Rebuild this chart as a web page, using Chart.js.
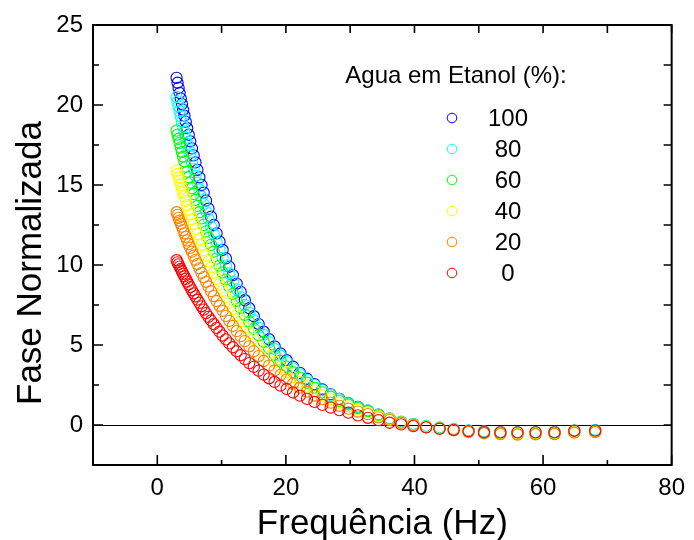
<!DOCTYPE html>
<html>
<head>
<meta charset="utf-8">
<script src="https://cdn.jsdelivr.net/npm/chart.js@4.4.1/dist/chart.umd.min.js"></script>
<style>
  html, body { margin: 0; padding: 0; background: #ffffff; }
  #wrap { width: 694px; height: 540px; }
</style>
</head>
<body>
<div id="wrap"><canvas id="c" width="694" height="540"></canvas></div>
<script>
// Frequency (Hz) of each measurement
const frequencia = [
  3.00, 3.15, 3.31, 3.47, 3.65, 3.83, 4.02, 4.22, 4.43, 4.65,
  4.89, 5.13, 5.39, 5.66, 5.94, 6.24, 6.55, 6.88, 7.22, 7.58,
  7.96, 8.36, 8.78, 9.22, 9.68, 10.16, 10.67, 11.20, 11.76, 12.35,
  12.97, 13.62, 14.30, 15.01, 15.76, 16.55, 17.38, 18.25, 19.16, 20.12,
  21.12, 22.18, 23.29, 24.45, 25.67, 26.96, 28.30, 29.72, 31.20, 32.76,
  34.40, 36.12, 37.93, 39.82, 41.81, 43.90, 46.10, 48.40, 50.82, 53.36,
  56.03, 58.83, 61.78, 64.86, 68.11
];

// Normalised phase for each water fraction in ethanol
const agua100 = [
  21.70, 21.39, 21.07, 20.75, 20.40, 20.06, 19.70, 19.33, 18.95, 18.55,
  18.14, 17.73, 17.29, 16.85, 16.41, 15.95, 15.48, 15.00, 14.52, 14.03,
  13.52, 13.02, 12.50, 11.98, 11.46, 10.94, 10.41, 9.89, 9.37, 8.84,
  8.32, 7.80, 7.30, 6.80, 6.31, 5.83, 5.36, 4.91, 4.47, 4.05,
  3.64, 3.26, 2.89, 2.55, 2.22, 1.92, 1.63, 1.37, 1.13, 0.90,
  0.65, 0.40, 0.20, 0.05, -0.08, -0.18, -0.27, -0.35, -0.42, -0.45,
  -0.47, -0.46, -0.45, -0.38, -0.34
];
const agua80 = [
  20.50, 20.22, 19.92, 19.62, 19.30, 18.97, 18.64, 18.30, 17.94, 17.57,
  17.18, 16.80, 16.40, 15.99, 15.57, 15.14, 14.71, 14.26, 13.81, 13.35,
  12.88, 12.40, 11.92, 11.43, 10.94, 10.45, 9.96, 9.47, 8.97, 8.48,
  7.98, 7.50, 7.02, 6.55, 6.08, 5.63, 5.18, 4.75, 4.33, 3.93,
  3.54, 3.17, 2.82, 2.49, 2.17, 1.88, 1.61, 1.35, 1.12, 0.90,
  0.64, 0.40, 0.21, 0.06, -0.06, -0.15, -0.25, -0.34, -0.40, -0.44,
  -0.45, -0.44, -0.43, -0.33, -0.30
];
const agua60 = [
  18.40, 18.15, 17.89, 17.63, 17.34, 17.06, 16.77, 16.47, 16.15, 15.83,
  15.49, 15.15, 14.80, 14.44, 14.07, 13.69, 13.30, 12.91, 12.51, 12.10,
  11.69, 11.26, 10.83, 10.40, 9.96, 9.53, 9.09, 8.65, 8.20, 7.76,
  7.32, 6.88, 6.45, 6.03, 5.61, 5.20, 4.79, 4.40, 4.02, 3.65,
  3.30, 2.96, 2.64, 2.33, 2.04, 1.77, 1.51, 1.28, 1.06, 0.86,
  0.60, 0.38, 0.18, 0.02, -0.12, -0.22, -0.32, -0.42, -0.50, -0.55,
  -0.57, -0.56, -0.55, -0.45, -0.42
];
const agua40 = [
  15.90, 15.69, 15.47, 15.25, 15.01, 14.78, 14.53, 14.28, 14.01, 13.74,
  13.45, 13.17, 12.87, 12.56, 12.26, 11.93, 11.61, 11.27, 10.93, 10.59,
  10.23, 9.87, 9.51, 9.14, 8.77, 8.39, 8.01, 7.64, 7.26, 6.87,
  6.49, 6.12, 5.74, 5.38, 5.01, 4.65, 4.30, 3.95, 3.62, 3.30,
  2.99, 2.68, 2.40, 2.12, 1.86, 1.62, 1.39, 1.17, 0.97, 0.79,
  0.56, 0.35, 0.17, 0.02, -0.10, -0.20, -0.30, -0.38, -0.46, -0.50,
  -0.52, -0.51, -0.50, -0.42, -0.40
];
const agua20 = [
  13.30, 13.13, 12.95, 12.77, 12.58, 12.39, 12.18, 11.98, 11.76, 11.54,
  11.30, 11.07, 10.83, 10.58, 10.32, 10.06, 9.79, 9.51, 9.24, 8.95,
  8.66, 8.36, 8.06, 7.75, 7.45, 7.14, 6.82, 6.51, 6.19, 5.87,
  5.55, 5.24, 4.92, 4.61, 4.31, 4.00, 3.71, 3.41, 3.13, 2.85,
  2.59, 2.33, 2.08, 1.84, 1.62, 1.40, 1.20, 1.02, 0.84, 0.68,
  0.48, 0.31, 0.14, 0.00, -0.13, -0.24, -0.34, -0.44, -0.52, -0.57,
  -0.60, -0.58, -0.57, -0.48, -0.45
];
const agua0 = [
  10.30, 10.17, 10.04, 9.90, 9.75, 9.61, 9.45, 9.30, 9.13, 8.96,
  8.78, 8.61, 8.42, 8.23, 8.04, 7.83, 7.63, 7.42, 7.21, 6.99,
  6.76, 6.53, 6.30, 6.07, 5.83, 5.59, 5.35, 5.10, 4.86, 4.61,
  4.36, 4.12, 3.87, 3.63, 3.39, 3.15, 2.92, 2.69, 2.46, 2.25,
  2.03, 1.83, 1.63, 1.44, 1.26, 1.09, 0.93, 0.77, 0.60, 0.45,
  0.30, 0.14, 0.04, -0.07, -0.15, -0.23, -0.30, -0.38, -0.45, -0.46,
  -0.46, -0.46, -0.46, -0.36, -0.35
];

const seriesValues = [agua100, agua80, agua60, agua40, agua20, agua0];
const seriesLabels = ['100', '80', '60', '40', '20', '0'];
const seriesColors = ['#0000ff', '#00ffff', '#00ff00', '#ffff00', '#ff8000', '#ff0000'];

const legendTitle = 'Agua em Etanol (%):';
const xTitle = 'Frequência (Hz)';
const yTitle = 'Fase Normalizada';

const FONT = '"Liberation Sans", Arial, Helvetica, sans-serif';

// Boxed frame with inward tick marks on all four sides, plus the zero line
const framePlugin = {
  id: 'frame',
  beforeDatasetsDraw(chart) {
    const { ctx, chartArea: a, scales: { y } } = chart;
    const y0 = Math.round(y.getPixelForValue(0)) + 0.5;
    ctx.save();
    ctx.strokeStyle = '#000';
    ctx.lineWidth = 1.2;
    ctx.beginPath();
    ctx.moveTo(a.left, y0);
    ctx.lineTo(a.right, y0);
    ctx.stroke();
    ctx.restore();
  },
  afterDatasetsDraw(chart) {
    const { ctx, chartArea: a, scales: { x, y } } = chart;
    ctx.save();
    ctx.strokeStyle = '#000';
    ctx.lineWidth = 1.6;
    x.ticks.forEach(t => {
      const px = x.getPixelForValue(t.value);
      const major = t.value % 20 === 0;
      ctx.beginPath();
      ctx.moveTo(px, a.bottom);
      ctx.lineTo(px, a.bottom - (major ? 10 : 5));
      ctx.moveTo(px, a.top);
      ctx.lineTo(px, a.top + 8);
      ctx.stroke();
    });
    y.ticks.forEach(t => {
      const py = y.getPixelForValue(t.value);
      const major = Math.abs(t.value % 5) < 1e-9;
      ctx.beginPath();
      ctx.moveTo(a.left, py);
      ctx.lineTo(a.left + (major ? 10 : 6), py);
      ctx.moveTo(a.right, py);
      ctx.lineTo(a.right - 8, py);
      ctx.stroke();
    });
    ctx.lineWidth = 2;
    ctx.strokeRect(a.left, a.top, a.right - a.left, a.bottom - a.top);

    // axis titles
    ctx.fillStyle = '#000';
    ctx.font = '35px ' + FONT;
    ctx.textAlign = 'center';
    ctx.textBaseline = 'alphabetic';
    ctx.fillText(xTitle, (a.left + a.right) / 2, 534);
    ctx.translate(41, 263);
    ctx.rotate(-Math.PI / 2);
    ctx.fillText(yTitle, 0, 0);
    ctx.restore();
  }
};

// Legend block inside the plot area
const legendPlugin = {
  id: 'insideLegend',
  afterDraw(chart) {
    const { ctx } = chart;
    ctx.save();
    ctx.fillStyle = '#000';
    ctx.font = '24px ' + FONT;
    ctx.textBaseline = 'middle';
    ctx.textAlign = 'center';
    ctx.fillText(legendTitle, 456, 76);
    seriesLabels.forEach((lab, i) => {
      const cy = 118 + i * 31;
      ctx.beginPath();
      ctx.arc(452, cy, 4.8, 0, Math.PI * 2);
      ctx.strokeStyle = seriesColors[i];
      ctx.lineWidth = 1;
      ctx.stroke();
      ctx.fillStyle = '#000';
      ctx.fillText(lab, 508, cy + 1);
    });
    ctx.restore();
  }
};

new Chart(document.getElementById('c'), {
  type: 'scatter',
  data: {
    datasets: seriesValues.map((vals, i) => ({
      label: seriesLabels[i],
      data: frequencia.map((f, k) => ({ x: f, y: vals[k] })),
      borderColor: seriesColors[i],
      backgroundColor: 'rgba(0,0,0,0)',
      pointStyle: 'circle',
      pointRadius: 5.6,
      pointHoverRadius: 5.6,
      pointBorderWidth: 1.1,
      showLine: false,
      order: seriesValues.length - 1 - i
    }))
  },
  options: {
    responsive: false,
    animation: false,
    devicePixelRatio: 1,
    layout: { padding: { top: 25, right: 16, left: 0, bottom: 0 } },
    plugins: { legend: { display: false }, tooltip: { enabled: false } },
    scales: {
      x: {
        type: 'linear',
        min: -10, max: 80,
        grid: { display: false, drawTicks: false },
        border: { display: false },
        ticks: {
          stepSize: 10, autoSkip: false, maxRotation: 0, padding: 9,
          color: '#000', font: { family: FONT, size: 24 },
          callback: v => (v % 20 === 0 ? String(v) : '')
        },
        afterFit: s => { s.height = 75; }
      },
      y: {
        type: 'linear',
        min: -2.5, max: 25,
        grid: { display: false, drawTicks: false },
        border: { display: false },
        ticks: {
          stepSize: 2.5, autoSkip: false, padding: 10,
          color: '#000', font: { family: FONT, size: 24 },
          callback: v => (Math.abs(v % 5) < 1e-9 ? String(v) : '')
        },
        afterFit: s => { s.width = 93; }
      }
    }
  },
  plugins: [framePlugin, legendPlugin]
});
</script>
</body>
</html>
